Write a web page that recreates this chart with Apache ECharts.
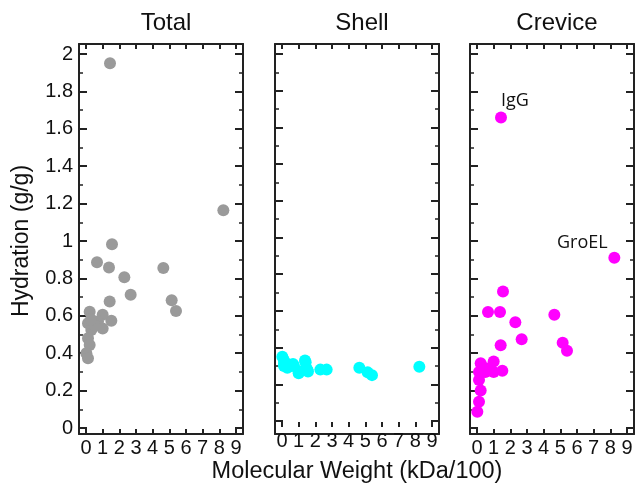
<!DOCTYPE html>
<html>
<head>
<meta charset="utf-8">
<script src="https://cdn.jsdelivr.net/npm/echarts@6/dist/echarts.min.js"></script>
<style>
  html, body { margin: 0; padding: 0; background: #fff; }
  #main { width: 640px; height: 489px; }
</style>
</head>
<body>
<div id="main"></div>
<script>
// molecular weight (kDa/100), one entry per protein
var mw = [1.44, 8.24, 1.56, 0.66, 1.38, 2.30, 2.68, 4.64, 5.14, 5.40, 1.42, 1.52,
  1.00, 0.22, 0.12, 0.72, 1.00, 0.32, 0.12, 0.22, 0.02, 0.12, 0.50, 0.30]
// hydration (g/g)
var total = [1.95, 1.165, 0.982, 0.886, 0.858, 0.806, 0.712, 0.855, 0.683, 0.626, 0.676, 0.574,
  0.606, 0.622, 0.56, 0.569, 0.532, 0.524, 0.48, 0.444, 0.40, 0.373, 0.55, 0.58]
var shell = [0.29, 0.295, 0.27, 0.31, 0.33, 0.28, 0.28, 0.29, 0.265, 0.25, 0.32, 0.28,
  0.27, 0.31, 0.33, 0.30, 0.26, 0.29, 0.30, 0.30, 0.35, 0.31, 0.30, 0.31]
var crevice = [1.66, 0.91, 0.73, 0.62, 0.62, 0.565, 0.474, 0.606, 0.456, 0.413, 0.442, 0.306,
  0.355, 0.346, 0.30, 0.32, 0.30, 0.30, 0.257, 0.20, 0.087, 0.141, 0.30, 0.33]
var pointNames = ['IgG', 'GroEL'] // labelled points in the crevice panel

var panelTitles = ['Total', 'Shell', 'Crevice']
var panelColors = ['#9a9a9a', '#00ffff', '#ff00ff']
var panelData = [total, shell, crevice]
var xTicks = [0, 9, 1] // min, max, interval
var yTicks = [0, 2, 0.2]

var frameLeft = [79, 275, 470]
var ink = '#222'
var tickFont = 'Liberation Sans, Arial, sans-serif'

var chart = echarts.init(document.getElementById('main'))

var grids = [], xAxes = [], yAxes = [], series = [], titles = []

function tickAxis(grid, pos, offset, len, showLabel, minor) {
  var isY = pos === 'left' || pos === 'right'
  var lim = isY ? yTicks : xTicks
  return {
    gridIndex: grid,
    type: 'value',
    position: pos,
    offset: offset,
    min: lim[0],
    max: lim[1],
    interval: lim[2],
    axisLine: { show: false, onZero: false },
    axisTick: { show: true, inside: true, length: len, lineStyle: { color: ink, width: 2 } },
    minorTick: { show: minor, splitNumber: 2, length: 4, lineStyle: { color: ink, width: 1.5 } },
    splitLine: { show: false },
    axisLabel: {
      show: showLabel,
      color: '#111',
      fontFamily: tickFont,
      fontSize: 20,
      margin: isY ? 6 : 4
    }
  }
}

function frameAxis(grid, pos) {
  return {
    gridIndex: grid,
    type: 'value',
    position: pos,
    min: 0,
    max: 1,
    axisLine: { show: true, onZero: false, lineStyle: { color: ink, width: 2 } },
    axisTick: { show: false },
    axisLabel: { show: false },
    splitLine: { show: false }
  }
}

for (var p = 0; p < 3; p++) {
  var dataGrid = p * 2
  var frameGrid = p * 2 + 1
  // data area (inset so 0..9 / 0..2 sit inside the frame)
  grids.push({ left: frameLeft[p] + 7, top: 54, width: 150, height: 374 })
  // outer frame
  grids.push({ left: frameLeft[p], top: 44, width: 164, height: 390 })

  var bx = tickAxis(dataGrid, 'bottom', 6, 5, true, false)
  var tx = tickAxis(dataGrid, 'top', 10, 5, false, false)
  var ly = tickAxis(dataGrid, 'left', 7, 8, p === 0, true)
  var ry = tickAxis(dataGrid, 'right', 7, 8, false, true)
  if (p === 0) {
    ly.name = 'Hydration (g/g)'
    ly.nameLocation = 'middle'
    ly.nameGap = 46
    ly.nameTextStyle = { fontFamily: tickFont, fontSize: 23, color: '#111' }
  }
  if (p === 1) {
    bx.name = 'Molecular Weight (kDa/100)'
    bx.nameLocation = 'middle'
    bx.nameGap = 33
    bx.nameTextStyle = { fontFamily: tickFont, fontSize: 23.5, color: '#111' }
  }
  var xBase = xAxes.length
  xAxes.push(bx, tx, frameAxis(frameGrid, 'bottom'), frameAxis(frameGrid, 'top'))
  var yBase = yAxes.length
  yAxes.push(ly, ry, frameAxis(frameGrid, 'left'), frameAxis(frameGrid, 'right'))

  var vals = panelData[p]
  var pts = mw.map(function (m, i) {
    var item = { value: [m, vals[i]] }
    if (p === 2 && i < pointNames.length) {
      item.label = {
        show: true,
        formatter: pointNames[i],
        position: 'top',
        distance: 2,
        offset: i === 0 ? [14, 0] : [-32, 2],
        color: '#111',
        fontFamily: 'Open Sans, sans-serif',
        fontSize: 18
      }
    }
    return item
  })
  series.push({
    type: 'scatter',
    xAxisIndex: xBase,
    yAxisIndex: yBase,
    symbolSize: 12,
    itemStyle: { color: panelColors[p], opacity: 1 },
    data: pts
  })

  titles.push({
    text: panelTitles[p],
    left: frameLeft[p] + 82,
    textAlign: 'center',
    top: 6,
    textStyle: { fontFamily: tickFont, fontSize: 24, fontWeight: 'normal', color: '#111' }
  })
}

chart.setOption({
  backgroundColor: '#fff',
  animation: false,
  title: titles,
  grid: grids,
  xAxis: xAxes,
  yAxis: yAxes,
  series: series
})
</script>
</body>
</html>
